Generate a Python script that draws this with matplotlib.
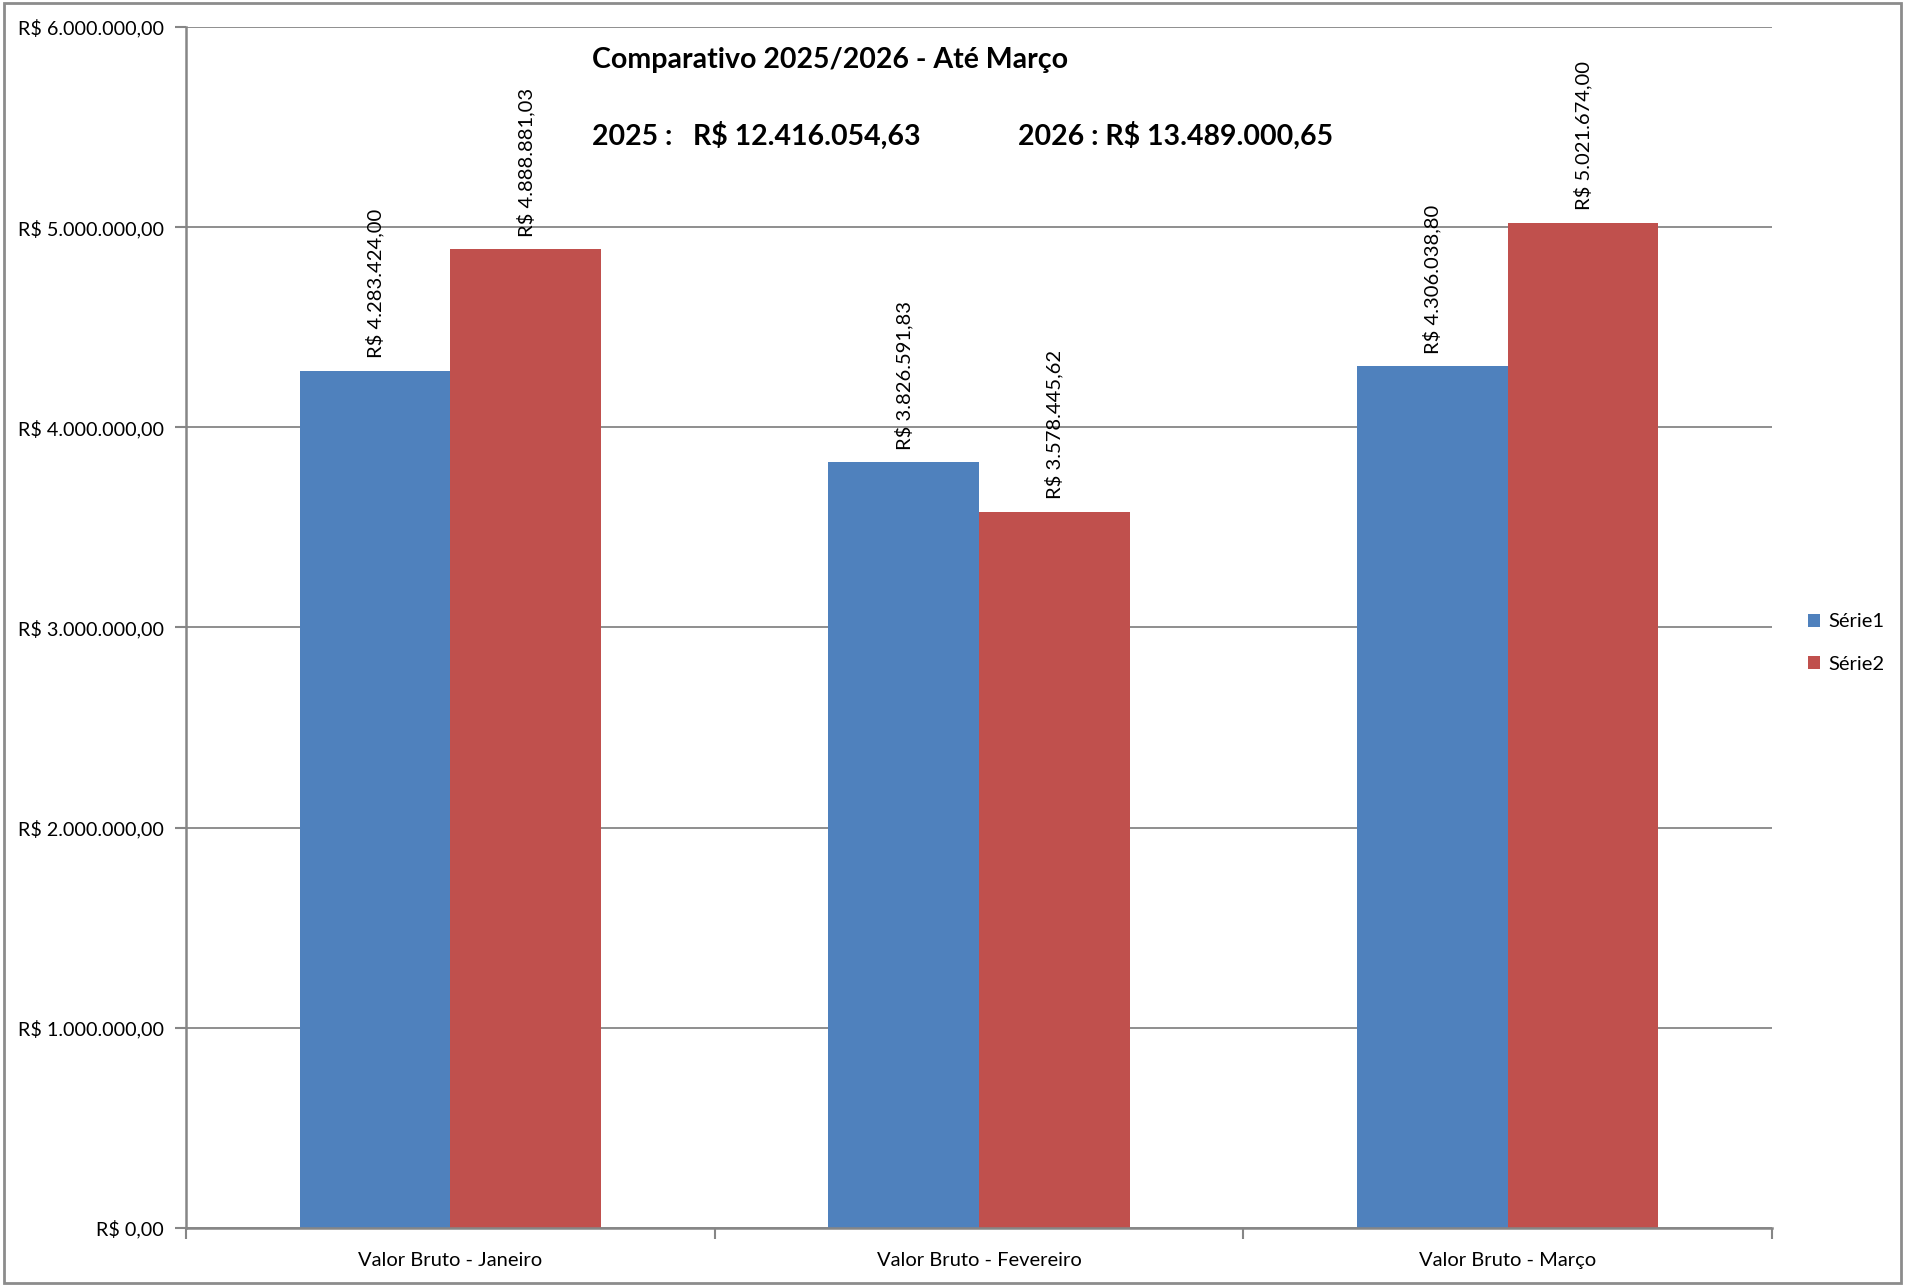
import matplotlib
matplotlib.use("Agg")
import matplotlib.pyplot as plt
import numpy as np
from matplotlib.patches import Rectangle
from matplotlib.ticker import FuncFormatter

plt.rcParams["font.family"] = ["Lato", "DejaVu Sans"]

categories = ["Valor Bruto - Janeiro", "Valor Bruto - Fevereiro", "Valor Bruto - Março"]
serie1 = [4283424.00, 3826591.83, 4306038.80]   # 2025
serie2 = [4888881.03, 3578445.62, 5021674.00]   # 2026
series_names = ["Série1", "Série2"]
yticks = [0, 1e6, 2e6, 3e6, 4e6, 5e6, 6e6]

BLUE = "#4F81BD"
RED = "#C0504D"
GRAY = "#868686"


def brl(v):
	s = f"{v:,.2f}"
	s = s.replace(",", "X").replace(".", ",").replace("X", ".")
	return f"R$ {s}"


W, H = 1905, 1286
fig = plt.figure(figsize=(W / 100, H / 100), dpi=100)
ax = fig.add_axes([186 / W, 1 - 1228 / H, (1772 - 186) / W, (1228 - 27) / H])

x = np.arange(len(categories))
bw = 0.285
b1 = ax.bar(x - bw / 2, serie1, bw, color=BLUE, label=series_names[0], zorder=3)
b2 = ax.bar(x + bw / 2, serie2, bw, color=RED, label=series_names[1], zorder=3)

for bars, vals in ((b1, serie1), (b2, serie2)):
	for rect, v in zip(bars, vals):
		ax.annotate(brl(v), (rect.get_x() + rect.get_width() / 2, v),
			xytext=(0, 9), textcoords="offset points",
			rotation=90, ha="center", va="bottom", fontsize=14.5, color="black")

ax.set_xlim(-0.5, len(categories) - 0.5)
ax.set_ylim(0, 6e6)
ax.set_yticks(yticks)
ax.yaxis.set_major_formatter(FuncFormatter(lambda v, p: brl(v)))
ax.set_xticks(x)
ax.set_xticklabels(categories)
ax.set_xticks(np.arange(-0.5, len(categories)), minor=True)
ax.tick_params(axis="x", which="major", length=0, pad=17, labelsize=14.5)
ax.tick_params(axis="x", which="minor", length=8, width=1.5, color=GRAY, direction="out")
ax.tick_params(axis="y", length=8, width=1.5, color=GRAY, labelsize=14.2, pad=8)

ax.grid(axis="y", color=GRAY, linewidth=1.3, zorder=0)
for side in ("top", "right"):
	ax.spines[side].set_visible(False)
for side in ("left", "bottom"):
	ax.spines[side].set_color(GRAY)
	ax.spines[side].set_linewidth(1.8)
	ax.spines[side].set_zorder(4)

# title block
t25 = sum(serie1)
t26 = sum(serie2)
fig.text(592 / W, 1 - 68 / H, "Comparativo 2025/2026 - Até Março",
	fontsize=20.5, fontweight="bold", va="baseline", ha="left")
fig.text(592 / W, 1 - 145 / H, "2025 :   " + brl(t25),
	fontsize=20.5, fontweight="bold", va="baseline", ha="left")
fig.text(1018 / W, 1 - 145 / H, "2026 : " + brl(t26),
	fontsize=20.5, fontweight="bold", va="baseline", ha="left")

fig.legend(handles=[b1, b2], loc="center left", bbox_to_anchor=(1798 / W, 1 - 643 / H),
	frameon=False, fontsize=14.5, handlelength=0.6, handleheight=0.6,
	handletextpad=0.4, labelspacing=1.25, borderpad=0)

fig.patches.append(Rectangle((0.002, 0.002), 0.996, 0.996, transform=fig.transFigure,
	fill=False, edgecolor="#8C8C8C", linewidth=2))

fig.savefig("out.png", dpi=100)
